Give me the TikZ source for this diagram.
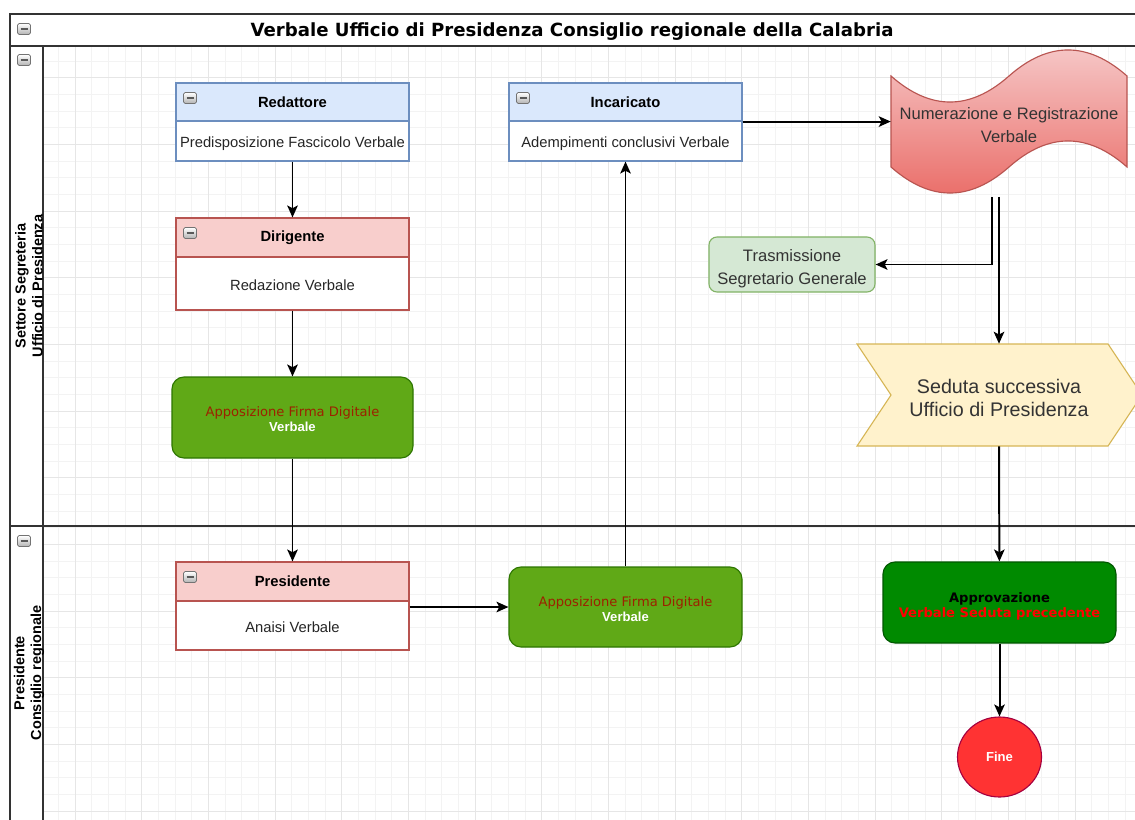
\documentclass[tikz,border=0pt]{standalone}
\usepackage{fontspec}
\setmainfont{Liberation Sans}
\newfontfamily\verdana{DejaVu Sans}
\usetikzlibrary{arrows.meta,shapes.geometric}
\newlength\pxu
\setlength\pxu{0.025cm}
\definecolor{gridMinor}{HTML}{F3F3F3}
\definecolor{gridMajor}{HTML}{E6E6E6}
\definecolor{poolLine}{HTML}{333333}
\definecolor{blueFill}{HTML}{DAE8FC}
\definecolor{blueLine}{HTML}{6C8EBF}
\definecolor{redFill}{HTML}{F8CECC}
\definecolor{redLine}{HTML}{B85450}
\definecolor{firmaFill}{HTML}{60A917}
\definecolor{firmaLine}{HTML}{2D7600}
\definecolor{firmaText}{HTML}{9C2200}
\definecolor{numTop}{HTML}{F6CACA}
\definecolor{numBot}{HTML}{EA6B66}
\definecolor{trasmFill}{HTML}{D5E8D4}
\definecolor{trasmLine}{HTML}{82B366}
\definecolor{sedutaFill}{HTML}{FFF2CC}
\definecolor{sedutaLine}{HTML}{D6B656}
\definecolor{approvFill}{HTML}{008A00}
\definecolor{approvLine}{HTML}{005700}
\definecolor{fineFill}{HTML}{FF3333}
\definecolor{fineLine}{HTML}{A50040}
\tikzset{
  lanehead/.style={draw, line width=0.8pt, minimum width=233\pxu, inner sep=0pt,
    font=\fontsize{10.5}{12}\selectfont\bfseries},
  lanebody/.style={draw, fill=white, line width=0.8pt, minimum width=233\pxu, inner sep=0pt,
    text height=9.6pt, text depth=0pt, text=black!85, font=\fontsize{10.5}{12}\selectfont},
  bluelane/.style={draw=blueLine, fill=blueFill},
  redlane/.style={draw=redLine, fill=redFill},
  firmabox/.style={draw=firmaLine, fill=firmaFill, line width=0.8pt, rounded corners=12\pxu,
    minimum height=80\pxu},
  firmatext/.style={align=center, yshift=-2\pxu, font=\fontsize{9.3}{10.7}\selectfont},
  midtext/.style={align=center, text=black!80, yshift=-4\pxu},
  lanelabel/.style={rotate=90, align=center, font=\fontsize{10.3}{12}\selectfont\bfseries},
  flow/.style={-{Stealth[length=8.5pt,width=7.5pt,inset=2pt]}, line width=1.4pt},
  poolline/.style={draw=poolLine, line width=1.4pt},
  minbtn/.pic={
    \draw[draw=black!55, line width=0.5pt, rounded corners=1.2pt, top color=white, bottom color=black!30]
      (-6.5,-5.5) rectangle (6.5,5.5);
    \draw[black!65, line width=1.2pt] (-3.5,0) -- (3.5,0);
  }
}
\begin{document}
\begin{tikzpicture}[x=0.025cm,y=-0.025cm]
  \useasboundingbox (0,0) rectangle (1135,820);
  \clip (0,0) rectangle (1135,820);
  \fill[white] (0,0) rectangle (1135,820);
  % grid
  \foreach \i in {0,...,64}
    \draw[gridMinor, line width=0.5pt] ({58.33+16.667*\i},46) -- ({58.33+16.667*\i},830);
  \foreach \i in {0,...,46}
    \draw[gridMinor, line width=0.5pt] (43,{61+16.667*\i}) -- (1135,{61+16.667*\i});
  \foreach \i in {0,...,15}
    \draw[gridMajor, line width=0.6pt] ({75+66.667*\i},46) -- ({75+66.667*\i},830);
  \foreach \i in {0,...,11}
    \draw[gridMajor, line width=0.6pt] (43,{77.7+66.667*\i}) -- (1135,{77.7+66.667*\i});
  % pool and lanes
  \draw[poolline] (10,14) rectangle (1150,840);
  \draw[poolline] (10,46) -- (1150,46);
  \draw[poolline] (43,46) -- (43,840);
  \draw[poolline] (10,526) -- (1150,526);
  \node[font=\verdana\fontsize{12.9}{15}\selectfont\bfseries] (title) at (572,31.5)
    {Verbale Ufficio di Presidenza Consiglio regionale della Calabria};
  \node[lanelabel] (lane1) at (29,286) {Settore Segreteria\\Ufficio di Presidenza};
  \node[lanelabel] (lane2) at (29,673) {Presidente\\Consiglio regionale};
  \pic at (24,29) {minbtn};
  \pic at (24,60) {minbtn};
  \pic at (24,541) {minbtn};
  % boxes
  \node[lanehead, bluelane, minimum height=38\pxu] (redatt) at (292.5,102) {Redattore};
  \node[lanebody, draw=blueLine, minimum height=40\pxu] (redattbody) at (292.5,141)
    {Predisposizione Fascicolo Verbale};
  \node[lanehead, bluelane, minimum height=38\pxu] (incar) at (625.5,102) {Incaricato};
  \node[lanebody, draw=blueLine, minimum height=40\pxu] (incarbody) at (625.5,141)
    {Adempimenti conclusivi Verbale};
  \node[lanehead, redlane, minimum height=39\pxu] (dirig) at (292.5,237.5) {Dirigente};
  \node[lanebody, draw=redLine, minimum height=53\pxu] (dirigbody) at (292.5,283.5)
    {Redazione Verbale};
  \node[lanehead, redlane, minimum height=39\pxu] (presid) at (292.5,581.5) {Presidente};
  \node[lanebody, draw=redLine, minimum height=49\pxu] (presidbody) at (292.5,625.5)
    {Anaisi Verbale};
  \pic at (190,98) {minbtn};
  \pic at (523,98) {minbtn};
  \pic at (190,233) {minbtn};
  \pic at (190,577) {minbtn};
  \node[firmabox, minimum width=241\pxu, minimum height=81\pxu,
    label={[firmatext]center:{{\verdana\color{firmaText}Apposizione Firma Digitale}\\{\bfseries\color{white}Verbale}}}]
    (firma1) at (292.5,417.5) {};
  \node[firmabox, minimum width=233\pxu,
    label={[firmatext]center:{{\verdana\color{firmaText}Apposizione Firma Digitale}\\{\bfseries\color{white}Verbale}}}]
    (firma2) at (625.5,607) {};
  % tape
  \path[draw=redLine, line width=0.8pt, top color=numTop, bottom color=numBot]
    (891,76) .. controls (930.3,110.7) and (969.7,110.7) .. (1009,76)
    .. controls (1048.3,41.3) and (1087.7,41.3) .. (1127,76) -- (1127,167)
    .. controls (1087.7,132.3) and (1048.3,132.3) .. (1009,167)
    .. controls (969.7,201.7) and (930.3,201.7) .. (891,167) -- cycle;
  \node[minimum width=236\pxu, minimum height=143\pxu,
    label={[midtext, font=\fontsize{11.8}{16.4}\selectfont]center:{Numerazione e Registrazione\\Verbale}}]
    (numreg) at (1009,121.5) {};
  \node[draw=trasmLine, fill=trasmFill, line width=0.8pt, rounded corners=8\pxu,
    minimum width=166\pxu, minimum height=55\pxu,
    label={[midtext, yshift=-0.5\pxu, font=\fontsize{11.8}{16.4}\selectfont]center:{Trasmissione\\Segretario Generale}}]
    (trasm) at (792,264.5) {};
  % step
  \path[draw=sedutaLine, fill=sedutaFill, line width=0.8pt]
    (857,344) -- (1108,344) -- (1142,395) -- (1108,446) -- (857,446) -- (891,395) -- cycle;
  \node[minimum width=285\pxu, minimum height=102\pxu,
    label={[midtext, yshift=1\pxu, font=\fontsize{14}{17}\selectfont]center:{Seduta successiva\\Ufficio di Presidenza}}]
    (seduta) at (999,395) {};
  \node[draw=approvLine, fill=approvFill, line width=0.8pt, rounded corners=12\pxu,
    minimum width=233\pxu, minimum height=81\pxu,
    label={[align=center, yshift=-3.5\pxu, font=\verdana\fontsize{9.3}{10.7}\selectfont\bfseries]center:{Approvazione\\{\color{red}Verbale Seduta precedente}}}]
    (approv) at (999.5,602.5) {};
  \node[ellipse, draw=fineLine, fill=fineFill, line width=0.8pt, minimum width=84\pxu,
    minimum height=80\pxu, text=white, font=\fontsize{9.3}{11}\selectfont\bfseries] (fine)
    at (999.5,757) {Fine};
  \coordinate (numout1) at (992,197);
  \coordinate (numout2) at (999,197);
  % connectors
  \begin{scope}[flow]
    \draw (redattbody) to (dirig);
    \draw (dirigbody) to (firma1);
    \draw (firma1) to (presid);
    \draw (firma2.west -| presidbody.east) to (firma2.west);
    \draw (firma2) to (incarbody);
    \draw (incar.south east) to (incar.south east -| numreg.west);
    \draw (numout1) |- (trasm);
    \draw (numout2) to (seduta.north);
    \draw (seduta.south) to (approv);
    \draw (approv) to (fine);
  \end{scope}
\end{tikzpicture}
\end{document}
